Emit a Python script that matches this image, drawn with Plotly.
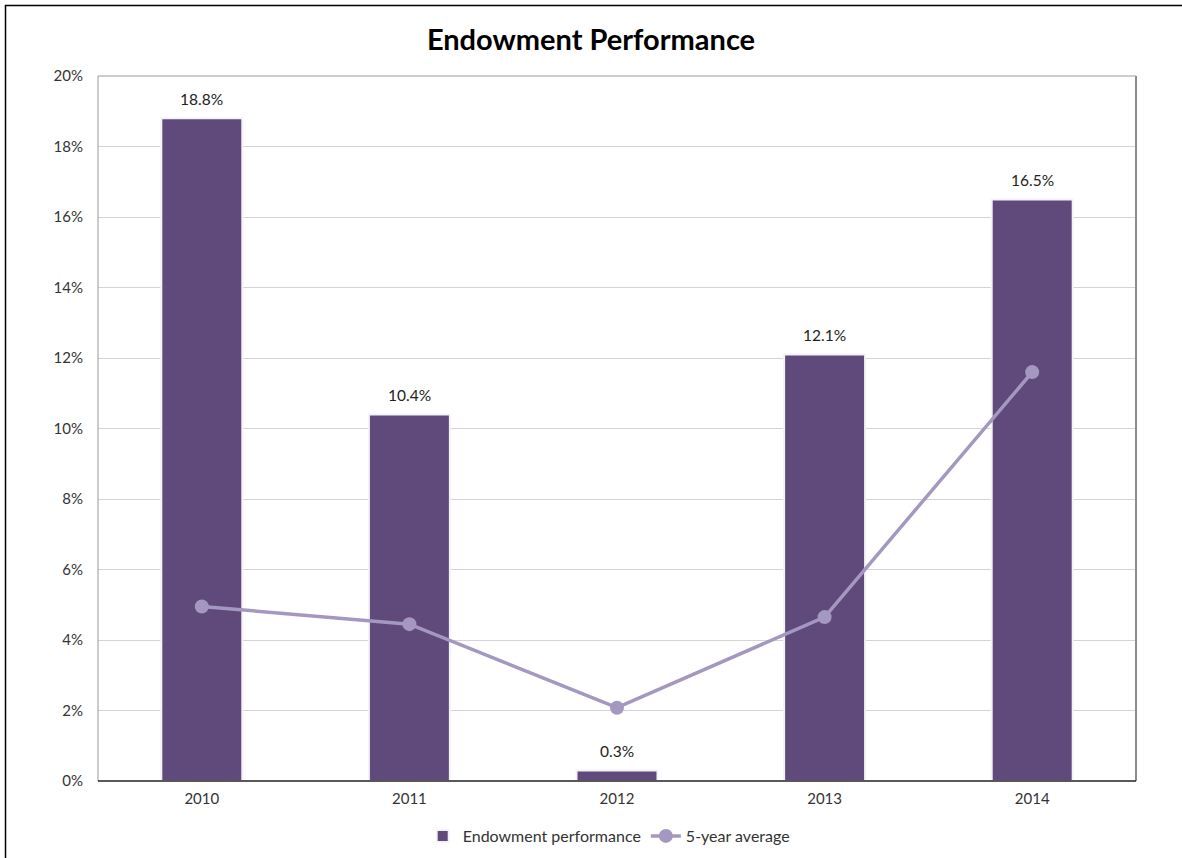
import plotly.graph_objects as go

years = ["2010", "2011", "2012", "2013", "2014"]
endowment = [18.8, 10.4, 0.3, 12.1, 16.5]
five_year = [4.95, 4.45, 2.08, 4.65, 11.6]
y_ticks = [0, 2, 4, 6, 8, 10, 12, 14, 16, 18, 20]
y_tick_labels = [f"{t}%" for t in y_ticks]

FONT = "Lato, 'Open Sans', sans-serif"
W, H = 1182, 858
L, R, T, B = 98, 46, 76, 77
pw, ph = W - L - R, H - T - B

fig = go.Figure()
fig.add_trace(go.Bar(
    x=years, y=endowment, name="Endowment performance",
    marker=dict(color="#5f4a7b", line=dict(color="#f4f2f6", width=2)),
    width=0.39,
))
fig.add_trace(go.Scatter(
    x=years, y=five_year, name="5-year average", mode="lines+markers",
    line=dict(color="#a498c0", width=3.5),
    marker=dict(color="#a498c0", size=14),
))

annotations = [
    dict(x=i, y=v, xref="x", yref="y", text=f"{v:.1f}%", showarrow=False,
         yshift=19, yanchor="middle", font=dict(size=15.5, color="#222222", family=FONT))
    for i, v in enumerate(endowment)
]

def px_x(px):
    return (px - L) / pw

def px_y(py):
    return (H - B - py) / ph

shapes = [
    dict(type="line", xref="paper", yref="paper", x0=px_x(5.5), x1=px_x(5.5), y0=px_y(5), y1=px_y(858), line=dict(color="#000000", width=1.5)),
    dict(type="line", xref="paper", yref="paper", x0=px_x(5), x1=px_x(1182), y0=px_y(5.5), y1=px_y(5.5), line=dict(color="#000000", width=1.5)),
    dict(type="line", xref="paper", yref="paper", x0=1, x1=1, y0=0, y1=1, line=dict(color="#8c8c8c", width=2)),
    dict(type="line", xref="paper", yref="paper", x0=0, x1=1, y0=1, y1=1, line=dict(color="#9a9a9a", width=1)),
    dict(type="line", xref="paper", yref="paper", x0=0, x1=0, y0=0, y1=1, line=dict(color="#9a9a9a", width=1)),
    dict(type="line", xref="paper", yref="paper", x0=0, x1=1, y0=0, y1=0, line=dict(color="#222222", width=1.5)),
]

fig.update_layout(
    width=W, height=H,
    margin=dict(l=L, r=R, t=T, b=B),
    paper_bgcolor="white", plot_bgcolor="white",
    font=dict(family=FONT, size=15, color="#333333"),
    title=dict(text="<b>Endowment Performance</b>", x=0.5, xanchor="center",
               y=1 - 40 / H, yanchor="middle",
               font=dict(size=29, color="#000000", family=FONT)),
    xaxis=dict(type="category", range=[-0.5, 4.5], showgrid=False, showline=False,
               ticks="", ticklabelstandoff=7,
               tickfont=dict(size=15, color="#333333")),
    yaxis=dict(range=[0, 20], tickvals=y_ticks, ticktext=y_tick_labels,
               showgrid=True, gridcolor="#d4d4d4", gridwidth=1, zeroline=False,
               showline=False, ticks="", ticklabelstandoff=14,
               tickfont=dict(size=15, color="#333333")),
    showlegend=True,
    legend=dict(orientation="h", x=0.492, xanchor="center",
                yref="container", y=(H - 836) / H, yanchor="middle",
                font=dict(size=16, color="#333333"), itemwidth=30, traceorder="normal"),
    annotations=annotations,
    shapes=shapes,
)

fig.write_html("out.html", config={"displayModeBar": False},
               post_script="document.body.style.margin='0';document.body.style.padding='0';")
